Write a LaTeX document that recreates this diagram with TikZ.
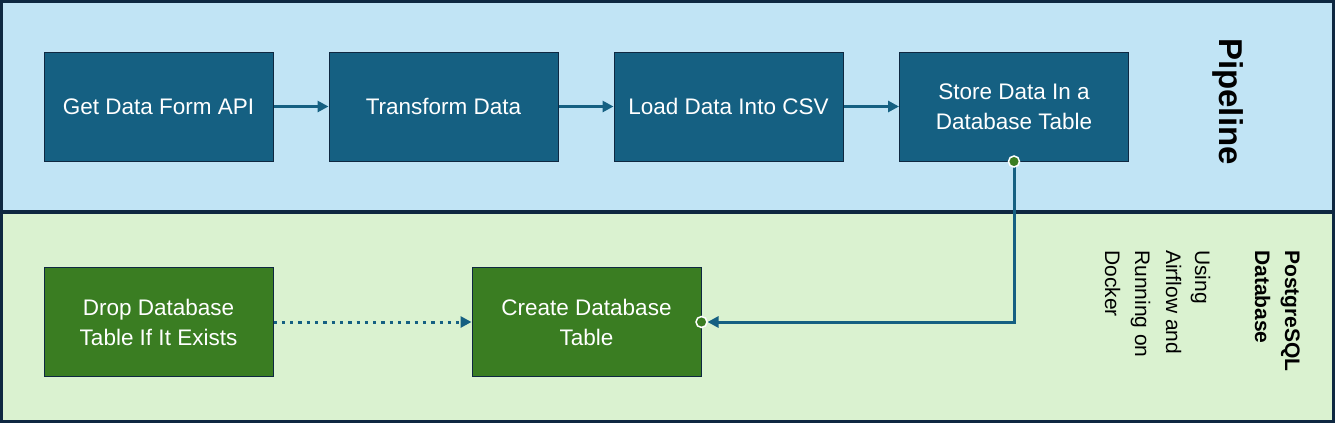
\documentclass[tikz,border=0pt]{standalone}
\usepackage{fontspec}
\setmainfont{Liberation Sans}
\usetikzlibrary{arrows.meta}
\definecolor{boxblue}{HTML}{156082}
\definecolor{boxgreen}{HTML}{3A7D22}
\definecolor{panelblue}{HTML}{C1E4F5}
\definecolor{panelgreen}{HTML}{DAF2D0}
\definecolor{edge}{HTML}{0E2841}
\definecolor{dotgreen}{HTML}{3A7D22}
\tikzset{
  panel/.style={draw=edge, line width=3pt},
  procbox/.style={draw=edge, line width=1pt, text=white, minimum width=229pt, minimum height=109pt,
    align=center, font=\fontsize{22.5}{30}\selectfont, inner sep=0pt},
  bluebox/.style={procbox, fill=boxblue},
  greenbox/.style={procbox, fill=boxgreen},
  flow/.style={draw=boxblue, line width=3pt, -{Triangle[length=11pt,width=11pt]}},
  dotflow/.style={flow, dash pattern=on 3.3pt off 5pt},
  enddot/.style={circle, fill=dotgreen, draw=white, line width=1.5pt, inner sep=0pt, minimum size=11pt},
  sidelabel/.style={rotate=-90, anchor=base west, inner sep=0pt, text=black},
}
\begin{document}
\begin{tikzpicture}[x=1pt,y=-1pt]
\useasboundingbox (0,0) rectangle (1335,423);
\draw[panel, fill=panelblue] (1.5,1.5) rectangle (1333.5,211);
\draw[panel, fill=panelgreen] (1.5,212.5) rectangle (1333.5,421.5);

\node[bluebox] (b1) at (158.5,106.5) {Get Data Form API};
\node[bluebox] (b2) at (443.5,106.5) {Transform Data};
\node[bluebox] (b3) at (728.5,106.5) {Load Data Into CSV};
\node[bluebox] (b4) at (1014,106.5) {Store Data In a\\Database Table};

\node[greenbox] (g1) at (158.5,322) {Drop Database\\Table If It Exists};
\node[greenbox] (g2) at (586.5,322) {Create Database\\Table};

\draw[flow] (b1) -- (b2);
\draw[flow] (b2) -- (b3);
\draw[flow] (b3) -- (b4);
\draw[dotflow] (g1) -- (g2);
\draw[flow, shorten >=6pt] (b4.south) |- (g2.east);
\node[enddot] (d1) at (b4.south) {};
\node[enddot] (d2) at (g2.east) {};

\node[sidelabel, font=\bfseries\fontsize{33}{38}\selectfont] (pl) at (1219,38) {Pipeline};
\node[sidelabel, font=\bfseries\fontsize{21}{30}\selectfont] (pg1) at (1285,250) {PostgreSQL};
\node[sidelabel, font=\bfseries\fontsize{21}{30}\selectfont] (pg2) at (1255,250) {Database};
\node[sidelabel, font=\fontsize{21}{30}\selectfont] (u1) at (1195,250) {Using};
\node[sidelabel, font=\fontsize{21}{30}\selectfont] (u2) at (1166,250) {Airflow and};
\node[sidelabel, font=\fontsize{21}{30}\selectfont] (u3) at (1135,250) {Running on};
\node[sidelabel, font=\fontsize{21}{30}\selectfont] (u4) at (1105,250) {Docker};
\end{tikzpicture}
\end{document}
